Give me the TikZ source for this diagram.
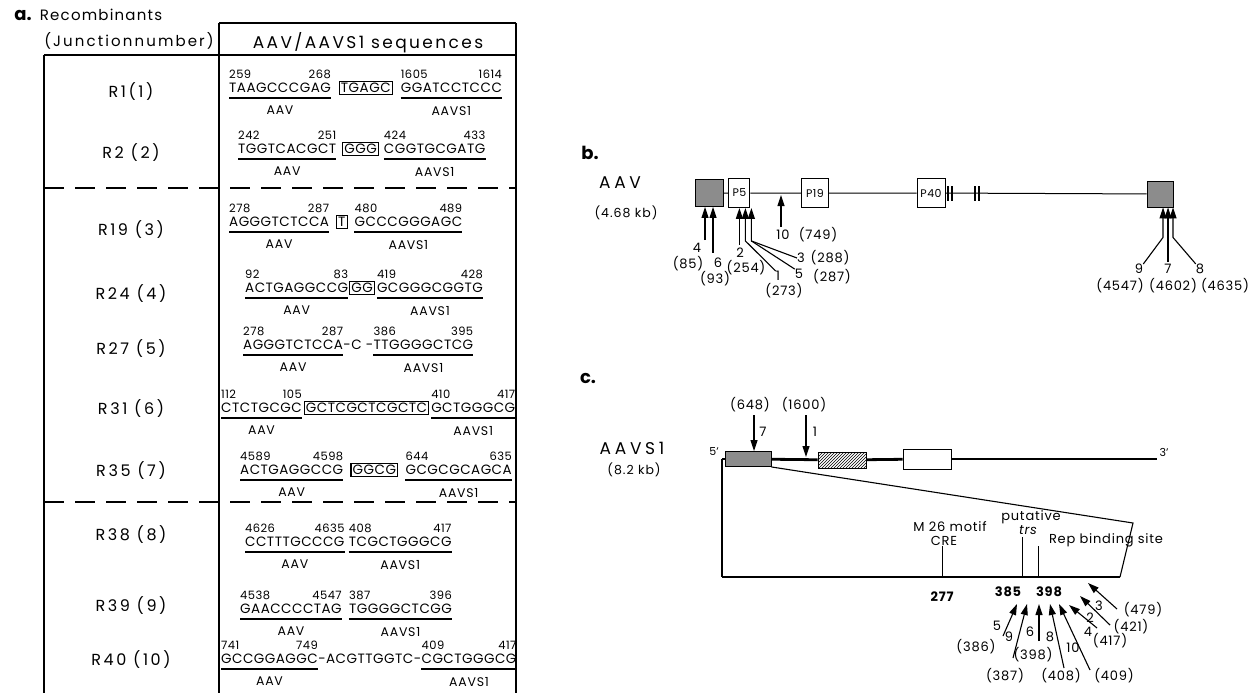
\documentclass[tikz,border=0pt]{standalone}
\usepackage{fontspec}
\setmainfont{Poppins}
\usetikzlibrary{arrows.meta, positioning, patterns}
\newcommand{\fsz}[1]{\fontsize{#1}{#1}\selectfont}
\newcommand{\wide}[1]{\addfontfeature{LetterSpace=#1}}
% numbers above, underline and source name below one sequence part
\newcommand{\seqpart}[4]{%
  \node[num, anchor=south west] (#1l) at ([yshift=4pt]#1.north west) {#2};
  \node[num, anchor=south east] (#1r) at ([yshift=4pt]#1.north east) {#3};
  \draw[uline] ([yshift=-5pt]#1.south west) -- ([yshift=-5pt]#1.south east);
  \node[src] (#1s) at ([yshift=-13pt]#1.south) {#4};
}

\begin{document}
\begin{tikzpicture}[x=1pt, y=-1pt,
    seq/.style={font=\fsz{13.5}\wide{3.5}, inner sep=0pt, anchor=west},
    ins/.style={draw, line width=0.9pt, inner sep=1.5pt, font=\fsz{13.5}\wide{3.5}},
    num/.style={font=\fsz{11.5}\wide{4}, inner sep=0pt},
    src/.style={font=\fsz{12.5}\wide{6}, inner sep=0pt, anchor=north},
    rowlab/.style={font=\fsz{16}\wide{16}, inner sep=0pt},
    uline/.style={line width=1.5pt},
    sepline/.style={line width=1.3pt, dash pattern=on 20pt off 11pt},
    frame/.style={line width=1.2pt},
    title/.style={font=\bfseries\fsz{18}, inner sep=0pt},
    head/.style={font=\fsz{14}\wide{4}, inner sep=0pt},
    mapname/.style={font=\fsz{17}\wide{22}, inner sep=0pt},
    mapsize/.style={font=\fsz{12.5}\wide{8}, inner sep=0pt},
    itr/.style={draw, line width=0.9pt, fill=black!45, minimum width=28pt, minimum height=27pt, inner sep=0pt},
    prom/.style={draw, line width=0.9pt, fill=white, minimum height=29pt, inner sep=0.5pt, font=\fsz{11}\wide{4}},
    lbl/.style={font=\fsz{13}\wide{6}, inner sep=0pt},
    posnum/.style={font=\bfseries\fsz{13}\wide{6}, inner sep=0pt},
    arr/.style={line width=1.1pt, -{Triangle[length=11pt,width=7pt]}},
    tick/.style={line width=1pt}
  ]
  \useasboundingbox (0,0) rectangle (1252,693);

  % a. table
  \draw[frame] (219,23) -- (516,23);
  \draw[frame] (44,55) -- (516,55);
  \draw[frame] (44,55) -- (44,693);
  \draw[frame] (219,23) -- (219,693);
  \draw[frame] (516,23) -- (516,693);
  \draw[sepline] (44,188) -- (516,188);
  \draw[sepline] (44,502) -- (516,502);

  \node[title] (alab) at (23,15) {a.};
  \node[head, font=\fsz{15}\wide{8}] (hrec) at (101,15) {Recombinants};
  \node[head, font=\fsz{15}\wide{14}] (hjun) at (129,41) {(Junctionnumber)};
  \node[head, font=\fsz{17}\wide{14}] (hseq) at (368,43) {AAV/AAVS1 sequences};

  \node[rowlab] (r1) at (131,92) {R1(1)};
  \node[rowlab] (r2) at (131,153) {R2 (2)};
  \node[rowlab] (r19) at (131,230) {R19 (3)};
  \node[rowlab] (r24) at (131,294) {R24 (4)};
  \node[rowlab] (r27) at (131,349) {R27 (5)};
  \node[rowlab] (r31) at (131,409) {R31 (6)};
  \node[rowlab] (r35) at (131,471) {R35 (7)};
  \node[rowlab] (r38) at (131,535) {R38 (8)};
  \node[rowlab] (r39) at (131,606) {R39 (9)};
  \node[rowlab] (r40) at (131,660) {R40 (10)};

  \node[seq] (s1a) at (229,88) {TAAGCCCGAG};
  \node[ins, right=8pt of s1a] (s1i) {TGAGC};
  \node[seq, right=8pt of s1i] (s1b) {GGATCCTCCC};
  \seqpart{s1a}{259}{268}{AAV}
  \seqpart{s1b}{1605}{1614}{AAVS1}

  \node[seq] (s2a) at (238,149) {TGGTCACGCT};
  \node[ins, right=6pt of s2a] (s2i) {GGG};
  \node[seq, right=5pt of s2i] (s2b) {CGGTGCGATG};
  \seqpart{s2a}{242}{251}{AAV}
  \seqpart{s2b}{424}{433}{AAVS1}

  \node[seq] (s3a) at (229,222) {AGGGTCTCCA};
  \node[ins, right=7pt of s3a] (s3i) {T};
  \node[seq, right=7pt of s3i] (s3b) {GCCCGGGAGC};
  \seqpart{s3a}{278}{287}{AAV}
  \seqpart{s3b}{480}{489}{AAVS1}

  \node[seq] (s4a) at (245,288) {ACTGAGGCCG};
  \node[ins, right=1pt of s4a] (s4i) {GG};
  \node[seq, right=2pt of s4i] (s4b) {GCGGGCGGTG};
  \seqpart{s4a}{92}{83}{AAV}
  \seqpart{s4b}{419}{428}{AAVS1}

  \node[seq] (s5a) at (243,345) {AGGGTCTCCA};
  \node[seq, right=0pt of s5a] (s5m) {-C -};
  \node[seq, right=0pt of s5m] (s5b) {TTGGGGCTCG};
  \seqpart{s5a}{278}{287}{AAV}
  \seqpart{s5b}{386}{395}{AAVS1}

  \node[seq] (s6a) at (221,408) {CTCTGCGC};
  \node[ins, right=2pt of s6a] (s6i) {GCTCGCTCGCTC};
  \node[seq, right=2pt of s6i] (s6b) {GCTGGGCG};
  \seqpart{s6a}{112}{105}{AAV}
  \seqpart{s6b}{410}{417}{AAVS1}

  \node[seq] (s7a) at (240,470) {ACTGAGGCCG};
  \node[ins, line width=1.6pt, right=7pt of s7a] (s7i) {GGCG};
  \node[seq, right=7pt of s7i] (s7b) {GCGCGCAGCA};
  \seqpart{s7a}{4589}{4598}{AAV}
  \seqpart{s7b}{644}{635}{AAVS1}

  \node[seq] (s8a) at (245,542) {CCTTTGCCCG};
  \node[seq, right=4pt of s8a] (s8b) {TCGCTGGGCG};
  \seqpart{s8a}{4626}{4635}{AAV}
  \seqpart{s8b}{408}{417}{AAVS1}

  \node[seq] (s9a) at (240,609) {GAACCCCTAG};
  \node[seq, right=7pt of s9a] (s9b) {TGGGGCTCGG};
  \seqpart{s9a}{4538}{4547}{AAV}
  \seqpart{s9b}{387}{396}{AAVS1}

  \node[seq] (s10a) at (221,659) {GCCGGAGGC};
  \node[seq, right=0pt of s10a] (s10m) {-ACGTTGGTC-};
  \node[seq, right=0pt of s10m] (s10b) {CGCTGGGCG};
  \seqpart{s10a}{741}{749}{AAV}
  \seqpart{s10b}{409}{417}{AAVS1}

  % b. AAV map
  \node[title] (blab) at (590,153) {b.};
  \node[mapname] (aav) at (620,183) {AAV};
  \node[mapsize] (aavkb) at (626,213) {(4.68 kb)};
  \node[itr] (lsq) at (709,193) {};
  \node[prom, minimum width=21pt, right=5pt of lsq] (p5) {P5};
  \node[prom, minimum width=27pt] (p19) at (815,193) {P19};
  \node[prom, minimum width=28pt] (p40) at (931,193) {P40};
  \node[itr, minimum width=26pt, minimum height=26pt] (rsq) at (1160,194) {};
  \draw[line width=1pt] (lsq) -- (p5) -- (p19) -- (p40) -- (rsq);
  \foreach \bx in {948,952,975,979}
    \draw[line width=1.1pt] (\bx,186) -- (\bx,201);

  \coordinate (h4) at ([xshift=-4pt]lsq.south);
  \coordinate (h6) at ([xshift=4pt]lsq.south);
  \node[lbl] (n4) at (697,248) {4};
  \node[lbl] (n4p) at (688,264) {(85)};
  \node[lbl] (n6) at (718,263) {6};
  \node[lbl] (n6p) at (715,279) {(93)};
  \draw[arr] ([yshift=3pt]n4.north -| h4) -- (h4);
  \draw[arr] ([yshift=5pt]n6.north -| h6) -- (h6);

  \coordinate (h2) at (p5.south);
  \coordinate (h1) at ([xshift=6pt]p5.south);
  \coordinate (h3) at ([xshift=12pt]p5.south);
  \coordinate (k1) at ([yshift=-33pt]h1);
  \coordinate (k3) at ([yshift=-33pt]h3);
  \node[lbl] (n2) at (740,253) {2};
  \node[lbl] (n2p) at (746,268) {(254)};
  \node[lbl] (n1) at (778,276) {1};
  \node[lbl] (n1p) at (784,291) {(273)};
  \node[lbl] (n3) at (801,258) {3};
  \node[lbl] (n3p) at (830,258) {(288)};
  \node[lbl] (n5) at (799,274) {5};
  \node[lbl] (n5p) at (832,277) {(287)};
  \draw[arr] ([yshift=3pt]n2.north -| h2) -- (h2);
  \draw[arr] (n1.north west) -- (k1) -- (h1);
  \draw[arr] (n3.west) -- (k3) -- (h3);
  \draw[line width=1.1pt] (n5.north west) -- (k3);

  \coordinate (h10) at (781,195);
  \node[lbl] (n10) at (783,235) {10};
  \node[lbl] (n10p) at (818,235) {(749)};
  \draw[arr] ([yshift=3pt]n10.north -| h10) -- (h10);

  \coordinate (h9) at ([xshift=3pt]rsq.south);
  \coordinate (h7) at ([xshift=8pt]rsq.south);
  \coordinate (h8) at ([xshift=13pt]rsq.south);
  \coordinate (k9) at ([yshift=-30pt]h9);
  \coordinate (k8) at ([yshift=-30pt]h8);
  \node[lbl] (n9) at (1139,269) {9};
  \node[lbl] (n9p) at (1120,286) {(4547)};
  \node[lbl] (n7) at (1168,269) {7};
  \node[lbl] (n7p) at (1173,286) {(4602)};
  \node[lbl] (n8) at (1200,269) {8};
  \node[lbl] (n8p) at (1225,286) {(4635)};
  \draw[arr] (n9.north east) -- (k9) -- (h9);
  \draw[arr] ([yshift=2pt]n7.north) -- (h7);
  \draw[arr] (n8.north west) -- (k8) -- (h8);

  % c. AAVS1 map
  \node[title] (clab) at (588,378) {c.};
  \node[mapname] (aavs) at (632,448) {AAVS1};
  \node[mapsize] (aavskb) at (634,470) {(8.2 kb)};
  \node[font=\fsz{11}, inner sep=0pt] (end5) at (714,452) {5'};
  \node[font=\fsz{11}, inner sep=0pt] (end3) at (1164,452) {3'};
  \coordinate (s0) at (722,459);
  \coordinate (s1) at (1157,459);
  \node[draw, line width=0.9pt, fill=black!45, minimum width=46pt, minimum height=15pt, inner sep=0pt] (cre) at (748,459) {};
  \node[draw, line width=0.9pt, preaction={fill=white}, pattern=north east lines, minimum width=48pt, minimum height=16pt, inner sep=0pt] (hat) at (842,460) {};
  \node[draw, line width=0.9pt, fill=white, minimum width=48pt, minimum height=20pt, inner sep=0pt] (wbox) at (927,459) {};
  \draw[line width=2.8pt] (s0) -- (cre.west);
  \draw[line width=2.8pt] (cre) -- (hat);
  \draw[line width=2.8pt] (hat) -- (wbox);
  \draw[line width=2.8pt] (wbox) -- (s1);

  \node[lbl] (m7p) at (750,405) {(648)};
  \node[lbl] (m1p) at (804,405) {(1600)};
  \node[lbl] (m7) at (763,432) {7};
  \node[lbl] (m1) at (815,432) {1};
  \coordinate (g7) at ([xshift=6pt]cre.north);
  \coordinate (g1) at (806,457);
  \draw[arr] ([yshift=-3pt]m7p.south -| g7) -- (g7);
  \draw[arr] ([yshift=-3pt]m1p.south -| g1) -- (g1);

  \coordinate (e0) at (722,577);
  \coordinate (e1) at (1120,577);
  \coordinate (e2) at (1133,523);
  \draw[line width=1.1pt] (s0) -- (e0);
  \draw[line width=1.1pt] (cre.south east) -- (e2) -- (e1);
  \draw[line width=2.8pt] (e0) -- (e1);

  \node[lbl] (m26) at (950,527) {M 26 motif};
  \node[lbl] (crel) at (944,541) {CRE};
  \node[lbl] (putl) at (1031,517) {putative};
  \node[lbl, font=\itshape\fsz{13}\wide{6}] (trsl) at (1028,530) {trs};
  \node[lbl] (repl) at (1106,540) {Rep binding site};
  \coordinate (t1) at (1022,537);
  \coordinate (t2) at (1038,546);
  \draw[tick] ([xshift=-2pt]crel.south) -- ([xshift=-2pt]crel.south |- e0);
  \draw[tick] (t1) -- (t1 |- e0);
  \draw[tick] (t2) -- (t2 |- e0);

  \node[posnum] (q277) at (942,597) {277};
  \node[posnum] (q385) at (1008,592) {385};
  \node[posnum] (q398) at (1049,592) {398};

  \node[lbl] (c5) at (997,626) {5};
  \node[lbl] (c5p) at (976,647) {(386)};
  \node[lbl] (c9) at (1009,637) {9};
  \node[lbl] (c9p) at (1005,676) {(387)};
  \node[lbl] (c6) at (1030,632) {6};
  \node[lbl] (c6p) at (1033,655) {(398)};
  \node[lbl] (c8) at (1050,637) {8};
  \node[lbl] (c8p) at (1061,676) {(408)};
  \node[lbl] (c10) at (1073,648) {10};
  \node[lbl] (c10p) at (1114,676) {(409)};
  \node[lbl] (c4) at (1088,632) {4};
  \node[lbl] (c4p) at (1110,641) {(417)};
  \node[lbl] (c2) at (1090,618) {2};
  \node[lbl] (c2p) at (1131,627) {(421)};
  \node[lbl] (c3) at (1099,606) {3};
  \node[lbl] (c3p) at (1143,610) {(479)};

  \coordinate (c5t) at (1003,636);  \coordinate (c5h) at (1017,604);
  \coordinate (c9t) at (1013,658);  \coordinate (c9h) at (1027,604);
  \coordinate (c6t) at (1039,641);  \coordinate (c6h) at (1039,604);
  \coordinate (c8t) at (1064,668);  \coordinate (c8h) at (1050,604);
  \coordinate (c10t) at (1090,670); \coordinate (c10h) at (1059,604);
  \coordinate (c4t) at (1097,628);  \coordinate (c4h) at (1069,605);
  \coordinate (c2t) at (1110,625);  \coordinate (c2h) at (1080,596);
  \coordinate (c3t) at (1117,609);  \coordinate (c3h) at (1088,583);
  \foreach \j in {5,9,6,8,10,4,2,3}
    \draw[arr] (c\j t) -- (c\j h);
\end{tikzpicture}
\end{document}
